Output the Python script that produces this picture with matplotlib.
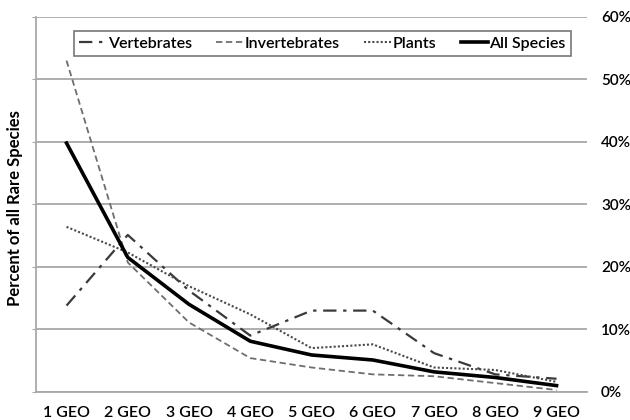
import matplotlib
matplotlib.use('Agg')
import matplotlib.pyplot as plt

# range classes (number of geographic units occupied)
categories = ['1 GEO', '2 GEO', '3 GEO', '4 GEO', '5 GEO', '6 GEO', '7 GEO', '8 GEO', '9 GEO']

# percent of all rare species
vertebrates = [13.8, 25.1, 16.2, 9.0, 13.0, 13.0, 6.2, 2.8, 2.1]
invertebrates = [53.0, 20.7, 11.1, 5.4, 3.9, 2.8, 2.5, 1.4, 0.3]
plants = [26.4, 22.3, 16.9, 12.4, 7.0, 7.6, 3.9, 3.5, 1.6]
all_species = [39.8, 21.5, 14.0, 8.1, 5.9, 5.1, 3.2, 2.3, 1.0]

y_ticks = [0, 10, 20, 30, 40, 50, 60]

plt.rcParams['font.family'] = ['Lato', 'DejaVu Sans']

fig = plt.figure(figsize=(6.3, 4.2), dpi=100)
ax = fig.add_axes([0.057, 0.067, 0.875, 0.893])

x = list(range(len(categories)))

# horizontal gridlines
for t in y_ticks:
    ax.axhline(t, color='#a8a8a8', lw=1.3, zorder=1)

ax.plot(x, vertebrates, color='#3a3a3a', lw=1.6, linestyle=(0, (6, 3, 1.5, 3)), label='Vertebrates', zorder=3)
ax.plot(x, invertebrates, color='#6e6e6e', lw=1.3, linestyle=(0, (3.5, 2)), label='Invertebrates', zorder=3)
ax.plot(x, plants, color='#4a4a4a', lw=1.5, linestyle=(0, (1, 1)), label='Plants', zorder=3)
ax.plot(x, all_species, color='black', lw=2.6, label='All Species', zorder=4)

ax.set_xlim(-0.5, len(categories) - 0.5)
ax.set_ylim(0, 60)

ax.set_xticks(x)
ax.set_xticklabels(categories, fontsize=11.5, fontweight='semibold')
ax.tick_params(axis='x', length=0, pad=10)

ax.set_yticks(y_ticks)
ax.set_yticklabels([str(t) + '%' for t in y_ticks], fontsize=11, fontweight='semibold')
ax.tick_params(axis='y', which='both', left=True, right=False, labelleft=False,
               labelright=True, length=3, color='#a8a8a8', pad=7)

for side in ['top', 'right']:
    ax.spines[side].set_visible(False)
for side in ['left', 'bottom']:
    ax.spines[side].set_color('#a8a8a8')
    ax.spines[side].set_linewidth(1.3)

fig.text(0.024, 0.505, 'Percent of all Rare Species', rotation=90, ha='center', va='center',
         fontsize=12, fontweight='bold')

leg = ax.legend(loc='upper center', bbox_to_anchor=(0.52, 0.962), ncol=4, frameon=True,
                fancybox=False, fontsize=11.5, handlelength=1.7, handletextpad=0.1,
                columnspacing=1.5, borderpad=0.35, borderaxespad=0)
leg.get_frame().set_edgecolor('#555555')
leg.get_frame().set_linewidth(1.2)
for t in leg.get_texts():
    t.set_fontweight('semibold')

fig.savefig('out.png', dpi=100)
